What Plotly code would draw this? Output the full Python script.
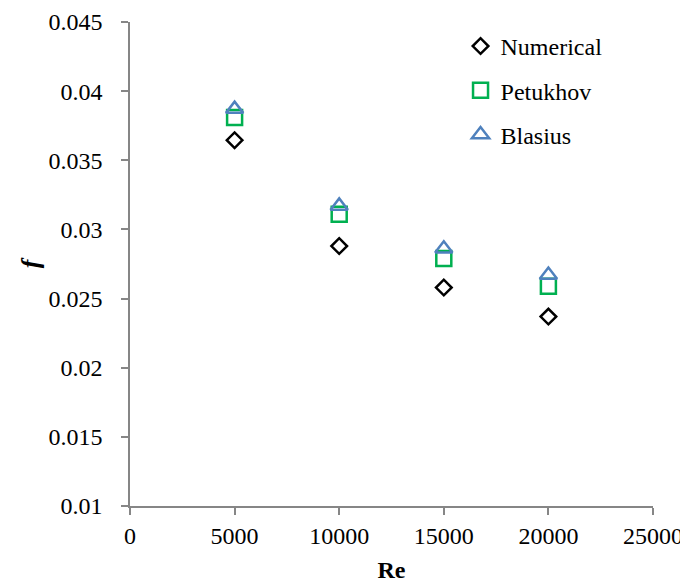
import plotly.graph_objects as go

re_vals = [5000, 10000, 15000, 20000]
numerical = [0.03645, 0.0288, 0.0258, 0.0237]
petukhov = [0.0381, 0.0311, 0.0279, 0.0259]
blasius = [0.0387, 0.0317, 0.0286, 0.0267]

x_ticks = [0, 5000, 10000, 15000, 20000, 25000]
y_ticks = [0.01, 0.015, 0.02, 0.025, 0.03, 0.035, 0.04, 0.045]
y_tick_text = ["0.01", "0.015", "0.02", "0.025", "0.03", "0.035", "0.04", "0.045"]

font_family = "Liberation Serif, Times New Roman, serif"

fig = go.Figure()
fig.add_trace(go.Scatter(x=re_vals, y=numerical, mode="markers", name="Numerical",
                         legendgroup="a",
                         marker=dict(symbol="diamond-open", size=12, color="black",
                                     line=dict(width=2.5, color="black"))))
fig.add_trace(go.Scatter(x=re_vals, y=petukhov, mode="markers", name="Petukhov",
                         legendgroup="b",
                         marker=dict(symbol="square-open", size=15, color="#00B050",
                                     line=dict(width=2.5, color="#00B050"))))
fig.add_trace(go.Scatter(x=re_vals, y=blasius, mode="markers", name="Blasius",
                         legendgroup="c",
                         marker=dict(symbol="triangle-up-open", size=15, color="#4F81BD",
                                     line=dict(width=2.5, color="#4F81BD"))))

axis_color = "#868686"
fig.update_layout(
    width=688, height=585,
    margin=dict(l=122, r=43, t=14, b=87),
    plot_bgcolor="white", paper_bgcolor="white",
    font=dict(family=font_family, size=24, color="black"),
    showlegend=True,
    legend=dict(x=0.632, y=0.996, xanchor="left", yanchor="top",
                bgcolor="rgba(0,0,0,0)", font=dict(size=24),
                traceorder="grouped", tracegroupgap=10, itemwidth=30),
    xaxis=dict(range=[0, 25000], tickvals=x_ticks, ticktext=[str(v) for v in x_ticks],
               showgrid=False, zeroline=False, showline=True, linecolor=axis_color,
               linewidth=1.5, ticks="outside", tickcolor=axis_color, ticklen=7,
               tickwidth=1.5, ticklabelstandoff=0, ticklabeloverflow="allow",
               automargin=False,
               title=dict(text="<b>Re</b>", font=dict(size=24), standoff=14),
               tickfont=dict(size=24)),
    yaxis=dict(range=[0.01, 0.045], tickvals=y_ticks, ticktext=y_tick_text,
               showgrid=False, zeroline=False, showline=True, linecolor=axis_color,
               linewidth=1.5, ticks="outside", tickcolor=axis_color, ticklen=7,
               tickwidth=1.5, ticklabelstandoff=14, ticklabeloverflow="allow",
               automargin=False,
               title=dict(text="<b><i>f</i></b>", font=dict(size=26), standoff=1),
               tickfont=dict(size=24)),
)

fig.write_html("out.html")
